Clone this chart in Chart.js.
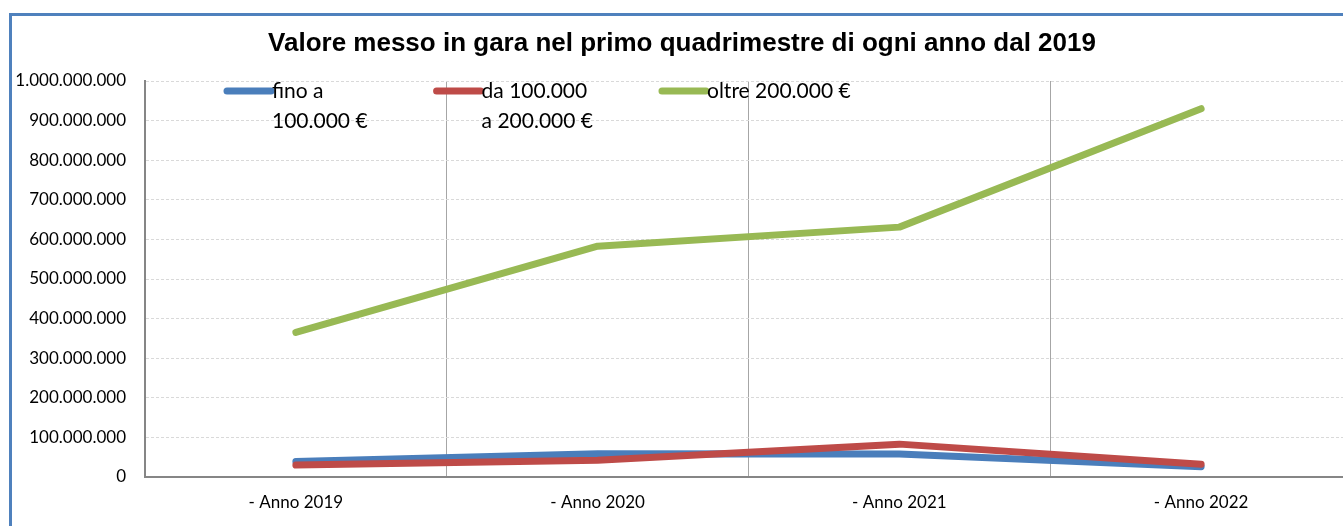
<!DOCTYPE html>
<html lang="it">
<head>
    <meta charset="UTF-8">
    <title>Valore messo in gara</title>
    <script src="https://cdn.jsdelivr.net/npm/chart.js"></script>
    <style>
        body { margin: 0; background: #fff; overflow: hidden; }
        .frame {
            position: absolute; left: 9px; top: 13px;
            width: 1400px; height: 600px;
            border: 3px solid #4f81bd; background: #fff;
        }
        #chart { display: block; }
    </style>
</head>
<body>
    <div class="frame">
        <canvas id="chart" width="1340" height="510"></canvas>
    </div>
    <script>
        const chartTitle = "Valore messo in gara nel primo quadrimestre di ogni anno dal 2019";
        const categories = ["- Anno 2019", "- Anno 2020", "- Anno 2021", "- Anno 2022"];
        const seriesLabels = [["fino a", "100.000 €"], ["da 100.000", "a 200.000 €"], ["oltre 200.000 €"]];
        const fino100k = [39000000, 59000000, 58000000, 26000000];
        const da100a200k = [30000000, 42000000, 83000000, 32000000];
        const oltre200k = [365000000, 583000000, 631000000, 930000000];
        const colors = ["#4a7ebb", "#be4b48", "#98b954"];

        function formatIt(v) {
            return String(Math.round(v)).replace(/\B(?=(\d{3})+(?!\d))/g, ".");
        }

        // title + legend drawn by hand (legend labels wrap onto two lines)
        const decorations = {
            id: 'decorations',
            afterDraw(chart) {
                const ctx = chart.ctx;
                ctx.save();
                ctx.fillStyle = "#000";
                ctx.font = "bold 26px 'Liberation Sans', Arial, sans-serif";
                ctx.textAlign = "center";
                ctx.textBaseline = "middle";
                ctx.fillText(chartTitle, 670, 28);

                ctx.font = "21px Lato, sans-serif";
                ctx.textAlign = "left";
                let x = 212;
                chart.data.datasets.forEach((ds, i) => {
                    ctx.strokeStyle = ds.borderColor;
                    ctx.lineWidth = 7;
                    ctx.lineCap = "round";
                    ctx.beginPath();
                    ctx.moveTo(x + 3, 75);
                    ctx.lineTo(x + 47, 75);
                    ctx.stroke();
                    let w = 0;
                    ds.label.forEach((line, j) => {
                        ctx.fillText(line, x + 48, 75 + j * 30);
                        w = Math.max(w, ctx.measureText(line).width);
                    });
                    x += 48 + w + 66;
                });
                ctx.restore();
            }
        };

        const datasets = [fino100k, da100a200k, oltre200k].map((vals, i) => ({
            label: seriesLabels[i],
            data: vals,
            borderColor: colors[i],
            backgroundColor: colors[i],
            borderWidth: 7,
            borderCapStyle: 'round',
            borderJoinStyle: 'round',
            pointRadius: 0,
            tension: 0,
            order: 3 - i
        }));

        new Chart(document.getElementById('chart'), {
            type: 'line',
            data: { labels: categories, datasets: datasets },
            options: {
                responsive: false,
                animation: false,
                layout: { padding: { top: 65, left: 0, right: 0, bottom: 0 } },
                plugins: {
                    legend: { display: false },
                    title: { display: false },
                    tooltip: { enabled: false }
                },
                scales: {
                    x: {
                        offset: true,
                        grid: { offset: true, color: "#a6a6a6", lineWidth: 1, drawTicks: false },
                        border: { color: "#868686", width: 2 },
                        ticks: { color: "#000", font: { family: "Lato", size: 17 }, padding: 15, maxRotation: 0 },
                        afterFit(scale) { scale.height = 49; }
                    },
                    y: {
                        min: 0,
                        max: 1000000000,
                        ticks: {
                            stepSize: 100000000,
                            color: "#000",
                            font: { family: "Lato", size: 17 },
                            padding: 19,
                            callback: v => formatIt(v)
                        },
                        grid: { color: "#d9d9d9", lineWidth: 1, drawTicks: false },
                        border: { color: "#868686", width: 2, dash: [3, 2] },
                        afterFit(scale) { scale.width = 133; }
                    }
                }
            },
            plugins: [decorations]
        });
    </script>
</body>
</html>
